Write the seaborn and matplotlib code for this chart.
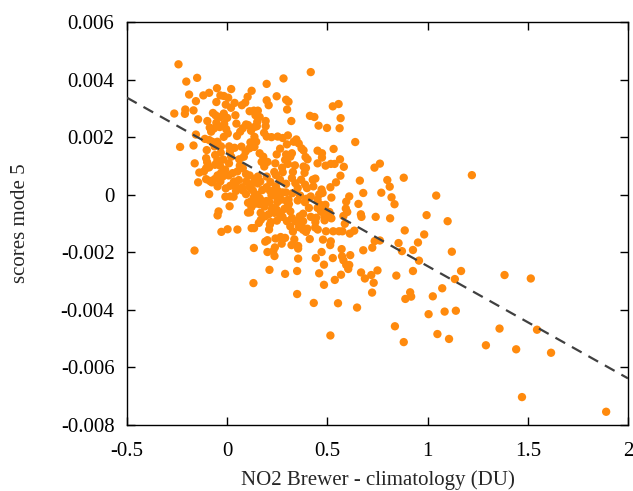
import numpy as np
import pandas as pd
import seaborn as sns
import matplotlib
matplotlib.use("Agg")
import matplotlib.pyplot as plt
from matplotlib.ticker import FuncFormatter

# NO2 Brewer - climatology (DU)
no2_diff = [
    -0.243, -0.204, -0.150, -0.190, -0.264, -0.209, -0.211, -0.156, -0.168, -0.119,
    -0.090, -0.051, -0.034, -0.017, 0.005, 0.020, -0.054, -0.007, 0.019, 0.037,
    0.041, -0.017, -0.058, -0.071, -0.145, -0.235, -0.168, -0.156, -0.162, -0.145,
    -0.090, -0.163, -0.029, 0.002, 0.051, -0.043, -0.048, 0.131,
    0.122, 0.102, 0.090, 0.197, 0.281, 0.247, 0.197, 0.207, 0.294, 0.306,
    0.299, 0.320, 0.192, 0.417, 0.413, 0.435, 0.527, 0.556, 0.566, 0.456,
    0.498, 0.561, 0.639, 0.531, 0.451, 0.473, 0.473, 0.563, 0.451, 0.491,
    0.517, 0.536, 0.582, 0.565, 0.440, 0.543, 0.515, 0.520, 0.471, 0.459,
    0.735, 0.762, 0.799, 0.811, 0.881, 0.662, 0.679, 0.769, 0.820, 0.835,
    0.655, 0.609, 0.594, 0.592, 0.667, 0.670, 0.741, 0.813, 1.043, 1.221,
    0.995, 1.100, 0.886, 0.983, 0.952, 0.855, 0.927, 0.872, 1.121, 0.957,
    1.167, 1.136, 1.384, 1.515, 0.927, 0.844, 1.073, 0.913, 0.918, 0.889,
    1.026, 1.085, 1.005, 1.141, 0.837, 1.049, 1.107, 0.881, 1.291, 1.359,
    1.442, 1.546, 1.616, 1.471, 1.891,
    0.679, 0.724, 0.736, 0.762, 0.750, 0.668, 0.687, 0.719, 0.731, 0.723,
    0.648, 0.553, 0.515, 0.432, 0.349, 0.537, 0.483, 0.459, 0.568, 0.349,
    0.289, 0.211, 0.354, 0.442, 0.527, 0.483, 0.573, 0.580, 0.594, 0.604,
    0.609, 0.614, 0.571, 0.471, 0.514, 0.517, 0.478, 0.529, 0.558, 0.575,
    0.493, 0.412, 0.393, 0.612, 0.634, 0.587, 0.580, 0.599, 0.354, 0.354,
    0.321, 0.272, 0.335, 0.328, 0.289, 0.238, 0.230, 0.236, 0.201, 0.190,
    0.201, 0.133, 0.122, 0.134, 0.114, 0.209, 0.213, 0.218, 0.158, 0.168,
    0.241, 0.267, 0.315, 0.361, 0.369, 0.379, 0.359, 0.400, 0.417, 0.444,
    0.440, 0.452, 0.439, 0.485, 0.486, 0.468, 0.510, 0.498, 0.520, 0.408,
    0.388, 0.396, 0.352, 0.362, 0.379, 0.306, 0.308, 0.286, 0.296, 0.270,
    0.248, 0.231, 0.221, 0.211, 0.196, 0.173, 0.187, 0.226, 0.247, 0.267,
    0.276, 0.248, 0.207, 0.167, 0.141, 0.104, 0.119, 0.150, 0.133, 0.175,
    0.094, 0.078, 0.044, 0.015, -0.009, 0.032, 0.012, 0.015, -0.007, -0.034,
    -0.048, -0.077, -0.087, -0.063, -0.105, -0.116, -0.139, -0.105, -0.090, -0.100,
    -0.105, -0.102, -0.111, -0.090, -0.075, -0.099, -0.087, -0.080, -0.066, -0.037,
    -0.054, -0.032, 0.000, -0.015, -0.005, 0.003, -0.017, -0.049, -0.063, -0.031,
    -0.032, -0.060, -0.049, -0.061, -0.036, -0.019, -0.010, -0.031, -0.048, -0.022,
    0.007, 0.027, 0.009, 0.020, 0.014, 0.010, 0.037, 0.049, 0.065, 0.078,
    0.094, 0.112, 0.133, 0.153, 0.141, 0.162, 0.150, 0.138, 0.119, 0.192,
    0.184, 0.197, 0.221, 0.252, 0.277, 0.303, 0.298, 0.332, 0.345, 0.357,
    0.371, 0.381, 0.391, 0.401, 0.381, 0.393, 0.386, 0.369, 0.389, 0.398,
    0.352, 0.340, 0.323, 0.328, 0.338, 0.303, 0.289, 0.315, 0.323, 0.294,
    0.264, 0.247, 0.240, 0.235, 0.243, 0.277, 0.274, 0.264, 0.294, 0.243,
    0.216, 0.197, 0.185, 0.201, 0.172, 0.180, 0.162, 0.136, 0.145, 0.136,
    0.116, 0.111, 0.092, 0.071, 0.083, 0.060, 0.063, 0.078, 0.051, 0.094,
    0.112, 0.138, 0.153, 0.165, 0.153, 0.122, 0.095, 0.058, 0.034, 0.043,
    0.075, 0.112, 0.128, 0.196, 0.213, 0.252, 0.276, 0.293, 0.325, 0.364,
    0.162, 0.104, 0.121, 0.136, 0.162, 0.236, 0.303, 0.315, 0.323, 0.298,
    0.265, 0.250, 0.223, 0.190,
    0.073, 0.046, 0.104, 0.148,
    0.427, 0.430, 0.476, 0.451, 0.417, 0.466, 0.451, 0.488, 0.490,
    0.340, 0.357, 0.379,
]

# scores mode 5, in units of 1e-3
scores_milli = [
    4.53, 3.93, 4.06, 3.48, 2.82, 2.96, 2.81, 3.25, 2.93, 3.45,
    3.54, 3.70, 3.45, 3.43, 3.37, 3.67, 3.22, 3.13, 3.02, 3.19,
    2.76, 2.82, 2.76, 2.84, 2.62, 1.66, 1.71, 2.09, 1.09, 0.43,
    0.02, -1.94, -1.29, -1.20, -1.21, -0.58, -0.72, -3.07,
    3.61, 3.40, 3.20, 3.85, 4.04, 3.42, 3.28, 3.11, 3.30, 3.23,
    2.96, 2.56, 2.56, 4.26, 2.74, 2.70, 3.07, 3.15, 2.66, 2.40,
    2.32, 2.31, 1.83, 1.59, 1.53, 1.44, 1.29, 1.23, 1.09, 1.01,
    1.07, 1.07, 0.97, 0.66, 0.56, 0.43, 0.26, -0.10, 0.18, 0.01,
    0.94, 1.08, 0.51, 0.28, 0.59, 0.49, 0.06, 0.07, -0.09, -0.33,
    -0.32, -0.06, -0.24, -0.48, -0.68, -0.77, -0.77, -0.82, -0.03, 0.68,
    -0.71, -0.92, -1.24, -1.38, -1.66, -1.68, -1.92, -1.96, -1.98, -2.29,
    -2.65, -2.93, -2.79, -2.91, -2.65, -2.81, -3.25, -3.39, -3.54, -3.62,
    -3.53, -4.06, -4.15, -4.03, -4.57, -4.84, -5.01, -5.12, -5.23, -4.65,
    -5.37, -4.69, -5.49, -7.03, -7.54,
    -1.93, -1.84, -1.61, -1.59, -2.63, -2.70, -2.91, -2.79, -3.06, -3.40,
    -3.92, -3.77, -4.89, -3.76, -3.45, -2.96, -3.13, -2.73, -2.78, -2.65,
    -2.75, -2.61, -2.22, -2.20, -2.20, -2.43, -2.14, -2.28, -2.44, -2.58,
    -2.44, -2.10, -1.89, -1.99, -1.75, -1.62, -1.56, -1.27, -1.27, -1.27,
    -1.27, -1.54, -1.29, -1.35, -1.25, -1.01, -0.74, -0.60, -1.78, -1.87,
    -1.75, -1.70, -1.55, -1.28, -1.50, -1.83, -1.96, -2.13, -1.99, -1.63,
    -1.58, -1.85, -1.16, -1.16, -0.61, -1.21, -1.04, -0.95, -0.98, -0.87,
    -1.52, -1.47, -1.10, -0.87, -1.05, -1.22, -1.13, -1.18, -0.77, -0.80,
    -0.95, -1.21, -1.14, -0.77, -0.89, -0.59, -0.60, -0.61, -0.82, -0.46,
    -0.26, -0.14, -0.20, -0.75, -0.66, -0.17, -0.32, -0.49, -0.22, -0.17,
    -0.09, 0.06, -0.02, -0.25, -0.22, -0.22, -0.41, -0.46, -0.52, -0.63,
    -0.77, -0.90, -0.68, -0.63, -0.31, -0.28, -0.23, 0.00, -0.09, 0.16,
    0.02, 0.15, 0.13, -0.06, -0.07, -0.07, -0.40, 0.31, 0.22, 0.46,
    0.29, 0.43, 0.48, 0.54, 0.54, 0.81, 0.77, 0.92, 0.95, 1.13,
    1.27, 1.55, 1.94, 1.90, 1.84, 2.56, 2.33, 2.19, 2.30, 2.35,
    2.50, 2.70, 2.67, 2.46, 2.28, 2.13, 2.01, 1.84, 1.68, 1.68,
    1.46, 1.38, 1.20, 1.04, 1.01, 1.22, 0.87, 0.75, 0.67, 0.63,
    0.67, 0.75, 1.09, 1.32, 1.50, 1.68, 1.63, 2.04, 2.19, 2.31,
    2.44, 2.90, 2.92, 2.92, 2.76, 2.70, 2.53, 2.36, 2.22, 2.38,
    2.15, 2.02, 2.00, 2.02, 1.97, 2.06, 1.75, 1.84, 1.92, 1.78,
    1.61, 1.54, 1.31, 1.23, 0.98, 0.93, 0.76, 0.52, 0.35, 0.23,
    0.23, 0.40, 0.58, 0.79, 1.02, 1.07, 1.21, 1.32, 1.44, 1.40,
    1.60, 1.40, 1.09, 0.79, 0.68, 0.78, 0.94, 0.52, 0.38, 0.29,
    0.44, 0.63, 0.98, 1.14, 1.14, 1.32, 1.44, 1.66, 1.84, 2.01,
    1.82, 1.61, 1.50, 1.67, 1.32, 1.23, 1.01, 0.92, 0.81, 0.72,
    0.67, 0.55, 0.63, 0.46, 0.39, 0.37, 0.46, 0.51, 0.46, 0.28,
    0.26, 0.26, 0.15, 0.26, 0.14, 0.14, 0.08, 0.08, 0.05, -0.03,
    -0.12, -0.62, -0.43, -0.24, -0.33, -0.63, -0.40, -0.58, -0.81, -0.92,
    -0.75, -0.26, -0.52, -0.75,
    3.11, 2.47, 2.42, 2.38,
    0.52, 0.29, 0.06, -0.17, -0.06, -0.35, -0.46, -0.52, -0.35,
    -0.92, -1.00, -0.92,
]

# dashed regression line end points
fit_x = [-0.5, 2.0]
fit_y = [0.00337, -0.00638]

df = pd.DataFrame({"no2": no2_diff, "score": np.array(scores_milli) * 1e-3})

sns.set_style("ticks")
plt.rcParams["font.family"] = ["Liberation Serif", "DejaVu Serif"]
plt.rcParams["axes.unicode_minus"] = False

fig = plt.figure(figsize=(6.33, 4.91), dpi=100)
ax = fig.add_axes([0.2006, 0.1344, 0.7915, 0.8208])

sns.scatterplot(data=df, x="no2", y="score", ax=ax, color="#ff8a0d",
                s=36, linewidth=0, edgecolor="none", zorder=3)
ax.plot(fit_x, fit_y, color="#404040", lw=1.6, dashes=(5, 3.5), zorder=4)

ax.set_xlim(-0.5, 2)
ax.set_ylim(-0.008, 0.006)
ax.set_xticks([-0.5, 0, 0.5, 1, 1.5, 2])
ax.set_yticks(np.arange(-0.008, 0.0061, 0.002))
fmt = FuncFormatter(lambda v, p: "%g" % round(v, 6))
ax.xaxis.set_major_formatter(fmt)
ax.yaxis.set_major_formatter(fmt)
ax.tick_params(direction="in", length=6, width=1, top=True, right=True,
               labelsize=15, colors="black")
ax.tick_params(axis="x", pad=12)
ax.tick_params(axis="y", pad=9)
for sp in ax.spines.values():
    sp.set_linewidth(1)
    sp.set_color("black")

ax.set_xlabel("NO2 Brewer - climatology (DU)", fontsize=15, labelpad=7)
ax.set_ylabel("scores mode 5", fontsize=15, labelpad=22)

fig.savefig("out.png", dpi=100)
